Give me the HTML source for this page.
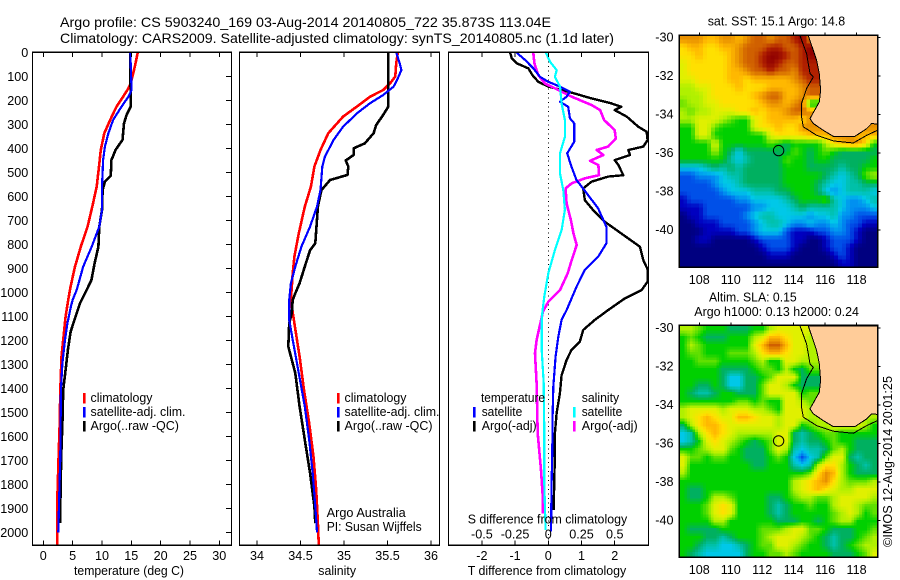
<!DOCTYPE html>
<html lang="en">
<head>
<meta charset="utf-8">
<title>Argo profile chart</title>
<style>
html,body{margin:0;padding:0;background:#fff;}
svg{display:block;font-family:"Liberation Sans",Arial,sans-serif;font-size:12.6px;fill:#000;}
.curve{fill:none;shape-rendering:crispEdges;stroke-linejoin:round;}
.frame{fill:none;stroke:#000;stroke-width:1.2;shape-rendering:crispEdges;}
.tick{stroke:#000;stroke-width:1;shape-rendering:crispEdges;}
</style>
</head>
<body>
<svg id="chart" xmlns="http://www.w3.org/2000/svg" width="900" height="580" viewBox="0 0 900 580">
<rect x="0" y="0" width="900" height="580" fill="#fff"/>
<defs>
<clipPath id="clip-p1"><rect x="32.5" y="52.3" width="199" height="493"/></clipPath>
<clipPath id="clip-p2"><rect x="239.5" y="52.3" width="200" height="493"/></clipPath>
<clipPath id="clip-p3"><rect x="448.5" y="52.3" width="200" height="493"/></clipPath>
<clipPath id="clip-m1"><rect x="679.3" y="35.3" width="198.4" height="232"/></clipPath>
<clipPath id="clip-m2"><rect x="679.3" y="325.3" width="198.4" height="232"/></clipPath>
</defs>

<text x="60" y="27" font-size="14" textLength="491" lengthAdjust="spacingAndGlyphs">Argo profile: CS 5903240_169 03-Aug-2014 20140805_722 35.873S 113.04E</text>
<text x="60" y="43" font-size="14" textLength="554" lengthAdjust="spacingAndGlyphs">Climatology: CARS2009. Satellite-adjusted climatology: synTS_20140805.nc (1.1d later)</text>

<g id="p1" clip-path="url(#clip-p1)"></g>
<g id="p2" clip-path="url(#clip-p2)"></g>
<g id="p3" clip-path="url(#clip-p3)"></g>
<g id="m1" clip-path="url(#clip-m1)"></g>
<g id="m2" clip-path="url(#clip-m2)"></g>
<g id="axes"></g>

<g>
<rect x="83" y="393" width="2.6" height="10.5" fill="#ff0000"/>
<rect x="83" y="407" width="2.6" height="10.5" fill="#0000ff"/>
<rect x="83" y="421" width="2.6" height="10.5" fill="#000"/>
<text x="90.5" y="402" textLength="62" lengthAdjust="spacingAndGlyphs">climatology</text>
<text x="90.5" y="416" textLength="95" lengthAdjust="spacingAndGlyphs">satellite-adj. clim.</text>
<text x="90.5" y="430" textLength="88.5" lengthAdjust="spacingAndGlyphs">Argo(..raw -QC)</text>
</g>
<g>
<rect x="337" y="393" width="2.6" height="10.5" fill="#ff0000"/>
<rect x="337" y="407" width="2.6" height="10.5" fill="#0000ff"/>
<rect x="337" y="421" width="2.6" height="10.5" fill="#000"/>
<text x="344.5" y="402" textLength="62" lengthAdjust="spacingAndGlyphs">climatology</text>
<text x="344.5" y="416" textLength="95" lengthAdjust="spacingAndGlyphs">satellite-adj. clim.</text>
<text x="344.5" y="430" textLength="88" lengthAdjust="spacingAndGlyphs">Argo(..raw -QC)</text>
<text x="326.7" y="517" textLength="79" lengthAdjust="spacingAndGlyphs">Argo Australia</text>
<text x="326.7" y="531" textLength="95" lengthAdjust="spacingAndGlyphs">PI: Susan Wijffels</text>
</g>
<g>
<text x="481" y="402" textLength="64" lengthAdjust="spacingAndGlyphs">temperature</text>
<text x="581.7" y="402" textLength="37.5" lengthAdjust="spacingAndGlyphs">salinity</text>
<rect x="473" y="407" width="2.6" height="10.5" fill="#0000ff"/>
<rect x="473" y="421" width="2.6" height="10.5" fill="#000"/>
<rect x="573" y="407" width="2.6" height="10.5" fill="#00ffff"/>
<rect x="573" y="421" width="2.6" height="10.5" fill="#ff00ff"/>
<text x="481.7" y="416" textLength="40.6" lengthAdjust="spacingAndGlyphs">satellite</text>
<text x="481.7" y="430" textLength="55" lengthAdjust="spacingAndGlyphs">Argo(-adj)</text>
<text x="581.7" y="416" textLength="40.6" lengthAdjust="spacingAndGlyphs">satellite</text>
<text x="581.7" y="430" textLength="56" lengthAdjust="spacingAndGlyphs">Argo(-adj)</text>
</g>

<text x="74" y="575" textLength="110" lengthAdjust="spacingAndGlyphs">temperature (deg C)</text>
<text x="318.3" y="575" textLength="37.7" lengthAdjust="spacingAndGlyphs">salinity</text>
<text x="467.7" y="575" textLength="158.5" lengthAdjust="spacingAndGlyphs">T difference from climatology</text>
<text x="467.7" y="523.5" textLength="159.5" lengthAdjust="spacingAndGlyphs">S difference from climatology</text>

<text x="707.7" y="25.5" textLength="137.5" lengthAdjust="spacingAndGlyphs">sat. SST: 15.1 Argo: 14.8</text>
<text x="709" y="301.5" textLength="87.7" lengthAdjust="spacingAndGlyphs">Altim. SLA: 0.15</text>
<text x="694.3" y="316" textLength="164.7" lengthAdjust="spacingAndGlyphs">Argo h1000: 0.13 h2000: 0.24</text>
<text transform="rotate(-90 892 547)" x="892" y="547" textLength="171" lengthAdjust="spacingAndGlyphs">©IMOS 12-Aug-2014 20:01:25</text>
</svg>

<script>
// ---- temperature panel data (depth in m, temperature in deg C) ----
const tempRedDepth = [0,60,129,150,185,226,268,337,407,476,560,643,726,810,893,976,1032,1101,1198,1268,1407,1546,1685,1851,2054];
const tempRedValue = [16.1,15.6,14.9,14.5,13.6,12.5,11.65,10.4,9.8,9.5,9.1,8.35,7.55,6.4,5.4,4.65,4.25,3.8,3.4,3.1,2.9,2.8,2.6,2.4,2.4];
const tempBlackDepth = [0,226,261,296,365,407,449,514,539,574,657,726,810,879,949,990,1046,1108,1164,1240,1323,1407,1546,1685,1823,1962];
const tempBlackValue = [14.83,14.9,14.2,13.75,13.5,12.3,11.6,11.5,10.5,10.1,10,9.55,9.4,8.75,8.2,7.4,6.25,5.4,4.65,4.2,3.8,3.4,3.25,3.05,2.95,2.85];
const tempBlueDepth = [0,157,185,226,282,337,393,449,560,657,726,810,893,990,1032,1059,1129,1198,1296,1407,1546,1685,1823,2000];
const tempBlueValue = [14.83,15.05,14.5,13.35,11.9,11.1,10.5,10.2,10,10,9.55,8.25,6.8,5.7,5,4.7,4.1,3.7,3.25,3,2.95,2.9,2.75,2.55];

// ---- salinity panel data ----
const salRedDepth = [0,46,101,129,157,185,226,268,337,407,476,560,643,754,851,921,1032,1059,1129,1268,1407,1546,1685,1823,1962,2054];
const salRedValue = [35.62,35.6,35.59,35.53,35.45,35.3,35.15,34.99,34.82,34.73,34.66,34.62,34.55,34.48,34.43,34.41,34.39,34.4,34.43,34.49,34.54,34.6,34.65,34.68,34.7,34.71];
const salBlackDepth = [0,226,261,303,337,379,400,428,451,476,511,532,574,643,796,824,893,962,1004,1032,1087,1129,1226,1337,1476,1615,1754,1893,1962];
const salBlackValue = [35.51,35.51,35.45,35.37,35.34,35.24,35.11,35.11,35.02,35.05,35.04,34.84,34.74,34.7,34.67,34.61,34.55,34.49,34.44,34.41,34.4,34.37,34.36,34.44,34.49,34.55,34.61,34.66,34.67];
const salBlueDepth = [0,46,74,115,143,178,212,254,310,365,435,476,574,643,726,810,893,962,1032,1115,1198,1337,1476,1615,1754,1893,2000];
const salBlueValue = [35.6,35.64,35.66,35.61,35.57,35.45,35.3,35.15,34.99,34.88,34.78,34.75,34.73,34.69,34.61,34.51,34.44,34.39,34.37,34.37,34.41,34.48,34.55,34.6,34.64,34.67,34.69];

// ---- difference panel data ----
const diffBlackDepth = [2,25,46,67,95,123,143,157,168,192,213,227,241,268,310,331,366,393,407,428,449,470,512,518,539,567,616,657,706,755,810,866,907,956,991,1025,1074,1115,1157,1206,1240,1282,1345,1421,1504,1588,1671,1782,1907];
const diffBlackT = [-1.15,-1.1,-0.95,-0.6,-0.48,-0.3,0,0.4,0.7,1.3,1.9,2.2,2,2.36,2.71,2.96,2.99,2.86,2.41,2.46,2,2.11,2.26,1.8,1.3,1.05,1.1,1.35,1.7,2.2,2.76,2.86,3,2.99,2.81,2.31,1.8,1.4,1.05,0.95,0.7,0.55,0.4,0.35,0.25,0.2,0.2,0.18,0.16];
const diffBlueDepth = [2,32,67,102,123,143,164,185,206,227,275,296,373,421,477,532,595,650,727,796,852,907,977,1074,1115,1185,1268,1393,1518,1657,1796,1997];
const diffBlueT = [-0.95,-0.7,-0.45,-0.25,0,0.35,0.65,0.55,0.35,0.6,0.65,0.78,0.78,0.57,0.7,0.85,1.2,1.5,1.75,1.75,1.5,1.1,0.85,0.55,0.4,0.3,0.22,0.15,0.13,0.12,0.1,0.08];
const diffMagentaDepth = [2,46,95,130,150,185,220,241,282,324,359,393,407,428,452,470,512,525,546,567,630,699,755,803,866,921,991,1039,1080,1199,1254,1379,1588,1740,1865,1921];
const diffMagentaS = [-0.113,-0.105,-0.075,-0.025,0.05,0.176,0.327,0.39,0.42,0.5,0.508,0.45,0.364,0.415,0.314,0.377,0.382,0.276,0.176,0.13,0.138,0.17,0.19,0.214,0.176,0.146,0.088,0,-0.04,-0.088,-0.1,-0.088,-0.08,-0.055,-0.04,-0.04];
const diffCyanDepth = [2,39,74,102,143,213,282,352,421,505,574,657,741,824,921,1018,1074,1115,1240,1379,1588,1796,1990];
const diffCyanS = [-0.018,0.013,0.063,0.05,0.088,0.1,0.125,0.125,0.088,0.088,0.113,0.125,0.1,0.05,0,-0.03,-0.043,-0.05,-0.05,-0.035,-0.03,-0.03,-0.02];

// ---- tick labels ----
const depthTicks = [0,100,200,300,400,500,600,700,800,900,1000,1100,1200,1300,1400,1500,1600,1700,1800,1900,2000];
const tempTicks = [0,5,10,15,20,25,30];
const salTicks = [34,34.5,35,35.5,36];
const salTickLabels = ['34','34.5','35','35.5','36'];
const tDiffTicks = [-2,-1,0,1,2];
const sDiffTickLabels = ['-0.5','-0.25','0','0.25','0.5'];
const lonTicks = [108,110,112,114,116,118];
const latTicks = [-30,-32,-34,-36,-38,-40];

// ---- map data ----
const levelKeys = 'abcdefghijklmnopq';
const levelColors = [[0,0,128],[0,0,192],[0,80,232],[0,144,240],[0,200,232],[0,192,168],[0,176,96],[0,208,0],[96,224,0],[176,240,0],[224,240,0],[255,224,0],[255,184,0],[232,144,0],[208,96,0],[176,32,0],[144,0,0]];
const sstRows = [
'nnnmmnnmnoonoopqn',
'lmmllmmnooopp'+'oopq',
'llmlllmnoopqqpopq',
'klllllmnoopqpoopp',
'klllllmmnoopoonpp',
'kkllllmmlmmmmmnop',
'jjkklllmlllmmmmno',
'jjjklllllmnoommno',
'ijjkklllllmnnmnog',
'jijjkkkllmlmmnoon',
'jjkkkjihhklmmmmln',
'hhkkihhhhkllmllnnnnnnnnnn',
'hhkkhhhhhhhkllllmmmnnnmmm',
'hhhhkhhhhhhihghhhhjlmnnlh',
'hhhhjhgeggggggihghihggggg',
'hhhhhhfefggggihhghhgggggh',
'eeefgfgfggggghhhggggfgghh',
'ccdddeffggggghhhhhgfefgij',
'ccccdeefggggghhhhgfeeffgg',
'cccccdeeefffgghhhgedefffe',
'bccccccddeeeefghhhifeddef',
'bbbccccccddeeefgffffeddde',
'abbcccccdeffeeeedeefddccc',
'aabbbccccdeffeddeddedccbb',
'aaabbbbccdeeecbbbccddcbaa',
'aabbaaaaabccccbbaabcccbaa',
'aaaaaaaaaabcccbaaabccbaaa',
'aaaaaaaaaaabbbaaaaabcbaaa',
'aaaaaaaaaaaaaaaaaaaabbaaa'
];
const slaRows = [
'jjihhhggghhjkkkkk',
'hihggghhhjkmmlkkj',
'hjihhhhhhkmoomkkj',
'hiihhhiiijlmmlkkj',
'hhiiihhhhijhhkkjj',
'hhhhhgggghiihjhgi',
'hhhhhgeegghikkkgg',
'hhgghgeeggikkjhgg',
'hgffghhgggikkkkhi',
'hhhhhhhiihihhkkji',
'jkkkkjkkkjjihkkkj',
'jklmlkkmmlkkjkkkjjjjjjjjj',
'gjlmmlkkkkkkjkkhijjkkkkjh',
'efjlmlkjjjjjkkgfghiihhhhh',
'efhklkjihghikkgfgghihhggg',
'hhijkkihgggikjfeffgijhggg',
'kiihiihhggghihecefikkgfgg',
'khhhhhhhhgghhhfefjlljhgfg',
'jhhhhhhhhhhhhhhhilnmjhggg',
'hhhhhhhhhhhhhhjklmnljiiij',
'hgghhhhhhhhhhhjklmlkjjkkk',
'hgghjjihhhhgghijjiijkkkkj',
'hhhiklkhhhhgfghhihhjkkjii',
'hhhiklkhhhhgfghhhhhijkjhi',
'hhhhjjhhhhhhggghhghijjhhh',
'hgggghhhhhiiijkkiihggghhi',
'hhhggfghhhijkkkjihgfgghij',
'hhgffeefghiikkjihhgfghijj',
'hgfeeeeeghhiijihhhhggghik'
];
const landLon = [114.93,115.46,115.63,115.71,115.63,115.46,115.04,115.25,115.88,116.52,117.9,118.64,118.96,119.33,119.4,119.4];
const landLat = [-29.9,-31.18,-31.87,-32.74,-33.35,-33.6,-34.21,-34.47,-34.82,-35.13,-35.13,-34.73,-34.47,-34.5,-34.5,-29.9];
const isobathLon = [114.4,114.82,115.04,115.25,114.82,114.5,114.5,114.61,115.46,116.52,117.79,118.64,119.33];
const isobathLat = [-29.9,-30.84,-31.87,-32.05,-32.65,-33.43,-34.12,-34.64,-35.08,-35.37,-35.48,-35.08,-34.82];
const argoLon = 113.04;
const argoLat = -35.873;

// ---- axis functions ----
const NS = 'http://www.w3.org/2000/svg';
const yDepth = d => 52.3 + d * 0.24;
const xTemp = v => 43.3 + v * 5.867;
const xSal = v => 257 + (v - 34) * 87;
const xTDiff = v => 548.3 + v * 33.2;
const xSDiff = v => 548.3 + v * 132.8;
const xLon = lon => 699.3 + (lon - 108) * 15.73;
const yLat1 = lat => 76 + (-32 - lat) * 19.25;
const yLat2 = lat => 366.3 + (-32 - lat) * 19.25;

function mk(tag, parent, attrs) {
  const el = document.createElementNS(NS, tag);
  for (const k in attrs) el.setAttribute(k, attrs[k]);
  parent.appendChild(el);
  return el;
}
function curve(parent, depths, values, xf, color, width, name) {
  const pts = depths.map((d, i) => xf(values[i]).toFixed(1) + ',' + yDepth(d).toFixed(1)).join(' ');
  const el = mk('polyline', parent, {points: pts, stroke: color, 'stroke-width': width, class: 'curve'});
  
  
}
function tickLine(x1, y1, x2, y2) {
  const el = mk('line', axes, {x1: x1, y1: y1, x2: x2, y2: y2, class: 'tick'});
  
  
}
function label(x, y, str, anchor, name) {
  const el = mk('text', axes, {x: x, y: y, 'text-anchor': anchor});
  el.textContent = str;
  
  
}
function frame(x, y, w, h, name) {
  const el = mk('rect', axes, {x: x, y: y, width: w, height: h, class: 'frame'});
  
  
}

const axes = document.getElementById('axes');
const p1 = document.getElementById('p1');
const p2 = document.getElementById('p2');
const p3 = document.getElementById('p3');

// ---- curves ----
curve(p1, tempRedDepth, tempRedValue, xTemp, '#ff0000', 2.6, 'temperature-climatology-line');
curve(p1, tempBlackDepth, tempBlackValue, xTemp, '#000000', 2.6, 'temperature-argo-line');
curve(p1, tempBlueDepth, tempBlueValue, xTemp, '#0000ff', 2.2, 'temperature-satellite-line');
curve(p2, salRedDepth, salRedValue, xSal, '#ff0000', 2.6, 'salinity-climatology-line');
curve(p2, salBlackDepth, salBlackValue, xSal, '#000000', 2.6, 'salinity-argo-line');
curve(p2, salBlueDepth, salBlueValue, xSal, '#0000ff', 2.2, 'salinity-satellite-line');

const zeroLine = mk('line', p3, {x1: 548.3, y1: 52.3, x2: 548.3, y2: 545, stroke: '#000', 'stroke-width': 1, 'stroke-dasharray': '1 3.5', 'shape-rendering': 'crispEdges'});


curve(p3, diffBlackDepth, diffBlackT, xTDiff, '#000000', 2.4, 'difference-t-argo-line');
curve(p3, diffMagentaDepth, diffMagentaS, xSDiff, '#ff00ff', 2.6, 'difference-s-argo-line');
curve(p3, diffBlueDepth, diffBlueT, xTDiff, '#0000ff', 2.2, 'difference-t-satellite-line');
curve(p3, diffCyanDepth, diffCyanS, xSDiff, '#00ffff', 2.2, 'difference-s-satellite-line');

// ---- maps ----
const gridCols = 25;
function levelAt(rows, r, c) {
  const rr = Math.max(0, Math.min(rows.length - 1, r));
  const row = rows[rr];
  const cc = Math.max(0, Math.min(row.length - 1, c));
  return levelKeys.indexOf(row[cc]);
}
function smoothLevel(rows, fr, fc) {
  const r0 = Math.floor(fr), c0 = Math.floor(fc);
  const tr = fr - r0, tc = fc - c0;
  return (levelAt(rows, r0, c0) * (1 - tc) + levelAt(rows, r0, c0 + 1) * tc) * (1 - tr) +
         (levelAt(rows, r0 + 1, c0) * (1 - tc) + levelAt(rows, r0 + 1, c0 + 1) * tc) * tr;
}
function levelColor(v) {
  const i = Math.min(levelColors.length - 2, Math.floor(v));
  const t = v - i;
  const a = levelColors[i], b = levelColors[i + 1];
  return 'rgb(' + [0, 1, 2].map(k => Math.round(a[k] + (b[k] - a[k]) * t)).join(',') + ')';
}
function drawMap(group, rows, yLat, top, mapName, sub) {
  const cw = 198.4 / gridCols / sub, ch = 232 / rows.length / sub;
  for (let r = 0; r < rows.length * sub; r++) {
    for (let c = 0; c < gridCols * sub; c++) {
      const v = smoothLevel(rows, (r + 0.5) / sub - 0.5, (c + 0.5) / sub - 0.5);
      const cell = mk('rect', group, {x: (679.3 + c * cw).toFixed(2), y: (top + r * ch).toFixed(2), width: (cw + 0.4).toFixed(2), height: (ch + 0.4).toFixed(2), fill: levelColor(v), 'shape-rendering': 'crispEdges'});
      
      
    }
  }
  const land = mk('polygon', group, {points: landLon.map((l, i) => xLon(l).toFixed(1) + ',' + yLat(landLat[i]).toFixed(1)).join(' '), fill: '#ffcc99', stroke: '#000', 'stroke-width': 1, 'shape-rendering': 'crispEdges'});
  
  
  const iso = mk('polyline', group, {points: isobathLon.map((l, i) => xLon(l).toFixed(1) + ',' + yLat(isobathLat[i]).toFixed(1)).join(' '), fill: 'none', stroke: '#000', 'stroke-width': 1, 'shape-rendering': 'crispEdges'});
  
  
  const pt = mk('circle', group, {cx: xLon(argoLon).toFixed(1), cy: yLat(argoLat).toFixed(1), r: 5.2, fill: 'none', stroke: '#000', 'stroke-width': 1});
  
  
}
drawMap(document.getElementById('m1'), sstRows, yLat1, 35.3, 'sst-map', 2);
drawMap(document.getElementById('m2'), slaRows, yLat2, 325.3, 'sla-map', 3);

// ---- axes ----
frame(32.5, 52.3, 199, 493, 'temperature-panel-frame');
frame(239.5, 52.3, 200, 493, 'salinity-panel-frame');
frame(448.5, 52.3, 200, 493, 'difference-panel-frame');
frame(679.3, 35.3, 198.4, 232, 'sst-map-frame');
frame(679.3, 325.3, 198.4, 232, 'sla-map-frame');

depthTicks.forEach(d => {
  tickLine(226, yDepth(d), 231.5, yDepth(d));
  label(28.3, yDepth(d) + 4.6, String(d), 'end', 'depth-tick-label');
});
tempTicks.forEach(v => {
  tickLine(xTemp(v), 52.3, xTemp(v), 57);
  tickLine(xTemp(v), 540.5, xTemp(v), 545.3);
  label(xTemp(v), 560, String(v), 'middle', 'temperature-tick-label');
});
salTicks.forEach((v, i) => {
  tickLine(xSal(v), 52.3, xSal(v), 57);
  tickLine(xSal(v), 540.5, xSal(v), 545.3);
  label(xSal(v), 560, salTickLabels[i], 'middle', 'salinity-tick-label');
});
tDiffTicks.forEach((v, i) => {
  tickLine(xTDiff(v), 52.3, xTDiff(v), 57);
  tickLine(xTDiff(v), 540.5, xTDiff(v), 545.3);
  label(xTDiff(v), 560, String(v), 'middle', 't-difference-tick-label');
  label(xTDiff(v), 538.7, sDiffTickLabels[i], 'middle', 's-difference-tick-label');
});
lonTicks.forEach(lon => {
  tickLine(xLon(lon), 32.5, xLon(lon), 35.3);
  tickLine(xLon(lon), 322.5, xLon(lon), 325.3);
  label(xLon(lon), 284, String(lon), 'middle', 'sst-longitude-label');
  label(xLon(lon), 574, String(lon), 'middle', 'sla-longitude-label');
});
latTicks.forEach(lat => {
  tickLine(877.7, yLat1(lat), 880.5, yLat1(lat));
  tickLine(877.7, yLat2(lat), 880.5, yLat2(lat));
  label(673.5, yLat1(lat) + 4, String(lat), 'end', 'sst-latitude-label');
  label(673.5, yLat2(lat) + 4, String(lat), 'end', 'sla-latitude-label');
});
</script>
</body>
</html>
